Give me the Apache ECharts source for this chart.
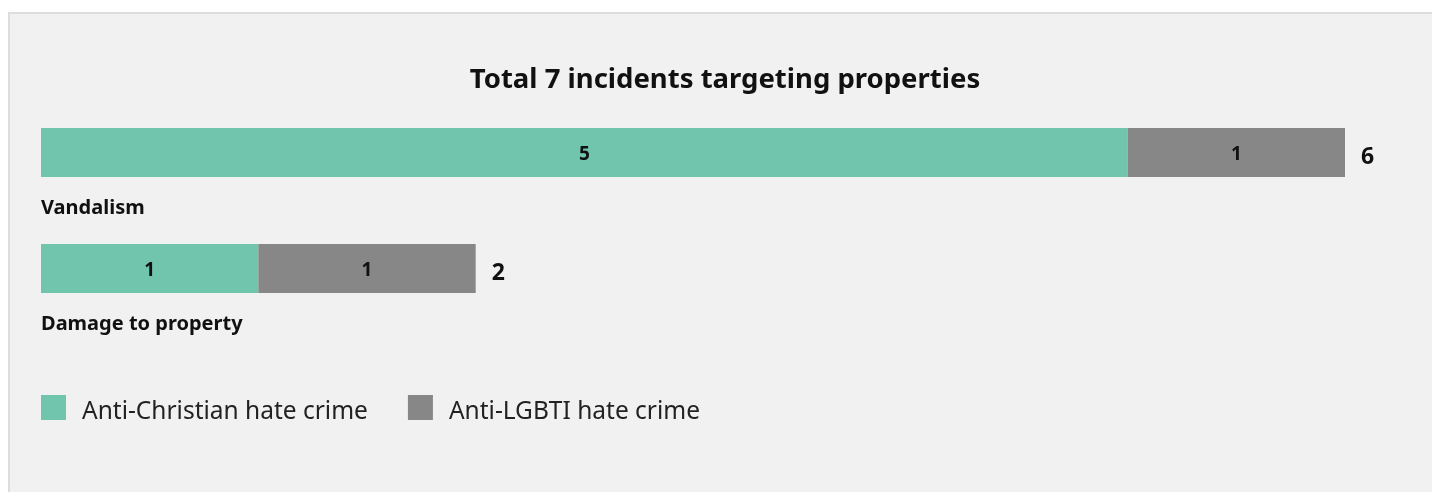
<!DOCTYPE html>
<html>
<head>
<meta charset="utf-8">
<title>Total 7 incidents targeting properties</title>
<script src="https://cdn.jsdelivr.net/npm/echarts@6/dist/echarts.min.js"></script>
<style>
    html, body { margin: 0; padding: 0; background: #ffffff; overflow: hidden; }
    #box {
        position: absolute; left: 8px; top: 12px; width: 1440px; height: 500px;
        background: #f1f1f1; border: 2px solid #dddddd;
    }
    /* chart is a bit wider than the window so the title centres on the box */
    #chart { position: absolute; left: 0; top: 0; width: 1450px; height: 492px; }
</style>
</head>
<body>
<div id="box"></div>
<div id="chart"></div>
<script>
// Chart data
const categories = ['Vandalism', 'Damage to property'];
const antiChristian = [5, 1];
const antiLgbti = [1, 1];
const totals = [6, 2];
const seriesNames = ['Anti-Christian hate crime', 'Anti-LGBTI hate crime'];

const FONT = '"Noto Sans", "Open Sans", sans-serif';

document.addEventListener('DOMContentLoaded', function() {
    const chart = echarts.init(document.getElementById('chart'), null, { renderer: 'canvas' });

    const barLabel = {
        show: true,
        position: 'inside',
        offset: [0, 2],
        color: '#111111',
        fontFamily: FONT,
        fontWeight: 'bold',
        fontSize: 19
    };

    const option = {
        backgroundColor: 'transparent',
        animation: false,
        title: {
            text: 'Total 7 incidents targeting properties',
            left: 'center',
            top: 66,
            padding: 0,
            textStyle: {
                fontFamily: FONT,
                fontWeight: 'bold',
                fontSize: 27.5,
                color: '#111111'
            }
        },
        legend: {
            data: seriesNames,
            left: 41,
            top: 395,
            padding: 0,
            itemWidth: 25,
            itemHeight: 25,
            itemGap: 40,
            icon: 'rect',
            // text sits a little lower than the swatch centre in the original
            formatter: '{t|{name}}',
            textStyle: {
                padding: [0, 0, 0, 11],
                rich: {
                    t: {
                        fontFamily: FONT,
                        fontSize: 24.5,
                        color: '#222222',
                        padding: [9, 0, 0, 0]
                    }
                }
            }
        },
        grid: {
            left: 41,
            right: 105,
            top: 94.5,
            bottom: 165.5,
            containLabel: false
        },
        xAxis: {
            type: 'value',
            min: 0,
            max: 6,
            show: false
        },
        yAxis: {
            type: 'category',
            inverse: true,
            data: categories,
            axisLine: { show: false },
            axisTick: { show: false },
            splitLine: { show: false },
            axisLabel: {
                inside: true,
                margin: 0,
                align: 'left',
                verticalAlign: 'top',
                padding: [46, 0, 0, 0],
                fontFamily: FONT,
                fontWeight: 'bold',
                fontSize: 20,
                color: '#111111'
            }
        },
        series: [
            {
                name: seriesNames[0],
                type: 'bar',
                stack: 'total',
                barWidth: 49,
                itemStyle: { color: '#71c5ad' },
                label: barLabel,
                data: antiChristian
            },
            {
                name: seriesNames[1],
                type: 'bar',
                stack: 'total',
                barWidth: 49,
                itemStyle: { color: '#878787' },
                label: barLabel,
                data: antiLgbti
            },
            {
                // zero-width bar that carries the total label at the end of the stack
                name: 'Total',
                type: 'bar',
                stack: 'total',
                barWidth: 49,
                itemStyle: { color: 'transparent' },
                label: {
                    show: true,
                    position: 'right',
                    distance: 16,
                    offset: [0, 5],
                    formatter: function(p) { return totals[p.dataIndex]; },
                    color: '#111111',
                    fontFamily: FONT,
                    fontWeight: 'bold',
                    fontSize: 23
                },
                data: [0, 0]
            }
        ]
    };

    chart.setOption(option);
});
</script>
</body>
</html>
